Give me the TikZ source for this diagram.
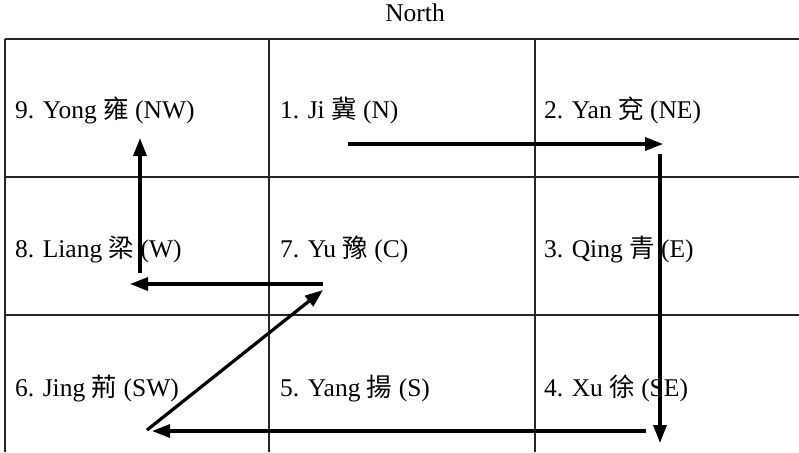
\documentclass[tikz,border=0pt]{standalone}
\usepackage{fontspec}
\setmainfont{Liberation Serif}
\newfontfamily\cjk{Noto Sans CJK TC}
\usetikzlibrary{arrows.meta}
\begin{document}
\begin{tikzpicture}[x=1pt,y=-1pt,
  gridline/.style={line width=1.2pt, draw=black!85},
  flow/.style={line width=3.2pt, -{Triangle[length=18pt,width=13pt]}},
  lbl/.style={anchor=base west, inner sep=0pt, font=\fontsize{25.5}{30}\selectfont}]
\useasboundingbox (0,0) rectangle (799,452);
\fill[white] (0,0) rectangle (799,452);
% grid
\draw[gridline] (5,39) -- (799,39);
\draw[gridline] (5,177) -- (799,177);
\draw[gridline] (5,315) -- (799,315);
\draw[gridline] (5,39) -- (5,452);
\draw[gridline] (269,39) -- (269,452);
\draw[gridline] (535,39) -- (535,452);
% title
\node[lbl, anchor=base] (north) at (415,22) {North};
% labels
\node[lbl] (yong)  at (15,118)  {9. Yong {\cjk 雍} (NW)};
\node[lbl] (ji)    at (280,118) {1. Ji {\cjk 冀} (N)};
\node[lbl] (yan)   at (544,118) {2. Yan {\cjk 兗} (NE)};
\node[lbl] (liang) at (15,257)  {8. Liang {\cjk 梁} (W)};
\node[lbl] (yu)    at (280,257) {7. Yu {\cjk 豫} (C)};
\node[lbl] (qing)  at (544,257) {3. Qing {\cjk 青} (E)};
\node[lbl] (jing)  at (15,396)  {6. Jing {\cjk 荊} (SW)};
\node[lbl] (yang)  at (280,396) {5. Yang {\cjk 揚} (S)};
\node[lbl] (xu)    at (544,396) {4. Xu {\cjk 徐} (SE)};
% arrow end points
\coordinate (a1s) at (348,144); \coordinate (a1e) at (663,144);
\coordinate (a2s) at (660,154); \coordinate (a2e) at (660,443);
\coordinate (a3s) at (646,431); \coordinate (a3e) at (152,431);
\coordinate (a4s) at (147,430); \coordinate (a4e) at (323,290);
\coordinate (a5s) at (323,284); \coordinate (a5e) at (130,284);
\coordinate (a6s) at (140,273); \coordinate (a6e) at (140,138);
\draw[flow] (a1s) -- (a1e);
\draw[flow] (a2s) -- (a2e);
\draw[flow] (a3s) -- (a3e);
\draw[flow] (a4s) -- (a4e);
\draw[flow] (a5s) -- (a5e);
\draw[flow] (a6s) -- (a6e);
\end{tikzpicture}
\end{document}
